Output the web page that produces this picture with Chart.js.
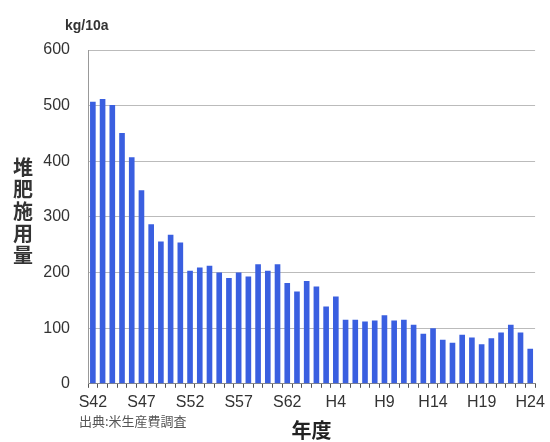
<!DOCTYPE html>
<html>
<head>
<meta charset="utf-8">
<script src="https://cdn.jsdelivr.net/npm/chart.js@4/dist/chart.umd.min.js"></script>
<style>
  html, body { margin: 0; padding: 0; background: #fff; }
  #wrap { width: 550px; height: 442px; }
</style>
</head>
<body>
<div id="wrap"><canvas id="barChart" width="550" height="442"></canvas></div>
<script>
// 年度 S42(1967) .. H24(2012)
let years = [];
for (let y = 42; y <= 63; y++) years.push('S' + y);
for (let y = 1; y <= 24; y++) years.push('H' + y);

// 堆肥施用量 kg/10a
let compost = [
    507, 512, 501, 451, 407, 348, 287, 256, 268, 254,
    203, 209, 212, 200, 190, 200, 193, 215, 203, 215,
    181, 166, 185, 175, 139, 157, 115, 115, 112, 114,
    123, 114, 115, 106, 90, 100, 79, 74, 88, 83,
    71, 82, 92, 106, 92, 63
];

let yTicks = [0, 100, 200, 300, 400, 500, 600];
let labelEvery = 5;

let unitText = 'kg/10a';
let yTitle = '堆肥施用量';
let xTitle = '年度';
let sourceText = '出典:米生産費調査';

let textPlugin = {
    id: 'extraText',
    afterDraw(chart) {
        let ctx = chart.ctx;
        ctx.save();
        ctx.fillStyle = '#333';
        ctx.textBaseline = 'middle';
        ctx.textAlign = 'left';
        ctx.font = 'bold 14px "Liberation Sans", Arial, sans-serif';
        ctx.fillText(unitText, 65, 26);

        ctx.textAlign = 'center';
        ctx.font = 'bold 20px "Noto Sans CJK JP", sans-serif';
        let chars = yTitle.split('');
        for (let i = 0; i < chars.length; i++) {
            ctx.fillText(chars[i], 23, 167 + i * 22);
        }

        ctx.textAlign = 'left';
        ctx.fillStyle = '#555';
        ctx.font = '13px "Noto Sans CJK JP", sans-serif';
        ctx.fillText(sourceText, 79, 421);
        ctx.restore();
    }
};

let barCtx = document.getElementById('barChart').getContext('2d');
let barChart = new Chart(barCtx, {
    type: 'bar',
    data: {
        labels: years,
        datasets: [{
            label: yTitle,
            data: compost,
            backgroundColor: '#3a5fe0',
            borderWidth: 0,
            barPercentage: 0.58,
            categoryPercentage: 1.0
        }]
    },
    options: {
        responsive: false,
        animation: false,
        layout: { padding: { left: 0, right: 9, top: 50, bottom: 0 } },
        plugins: {
            legend: { display: false },
            tooltip: { enabled: false }
        },
        scales: {
            x: {
                offset: true,
                grid: {
                    offset: true,
                    drawOnChartArea: false,
                    drawTicks: true,
                    tickLength: 4,
                    color: '#555'
                },
                border: { color: '#888', width: 1 },
                ticks: {
                    autoSkip: false,
                    maxRotation: 0,
                    minRotation: 0,
                    padding: 5,
                    color: '#333',
                    font: { family: '"Liberation Sans", Arial, sans-serif', size: 16 },
                    callback: function (val, idx) {
                        return idx % labelEvery === 0 ? years[idx] : '';
                    }
                },
                title: {
                    display: true,
                    text: xTitle,
                    color: '#222',
                    font: { family: '"Noto Sans CJK JP", sans-serif', size: 20, weight: 'bold' },
                    padding: { top: 1, bottom: 0 }
                }
            },
            y: {
                min: 0,
                max: 600,
                afterFit(scale) { scale.width = 88; },
                afterBuildTicks(scale) { scale.ticks = yTicks.map(v => ({ value: v })); },
                grid: { color: '#bbb', drawTicks: false },
                border: { color: '#999', width: 1 },
                ticks: {
                    padding: 18,
                    color: '#333',
                    font: { family: '"Liberation Sans", Arial, sans-serif', size: 16 }
                }
            }
        }
    },
    plugins: [textPlugin]
});
</script>
</body>
</html>
